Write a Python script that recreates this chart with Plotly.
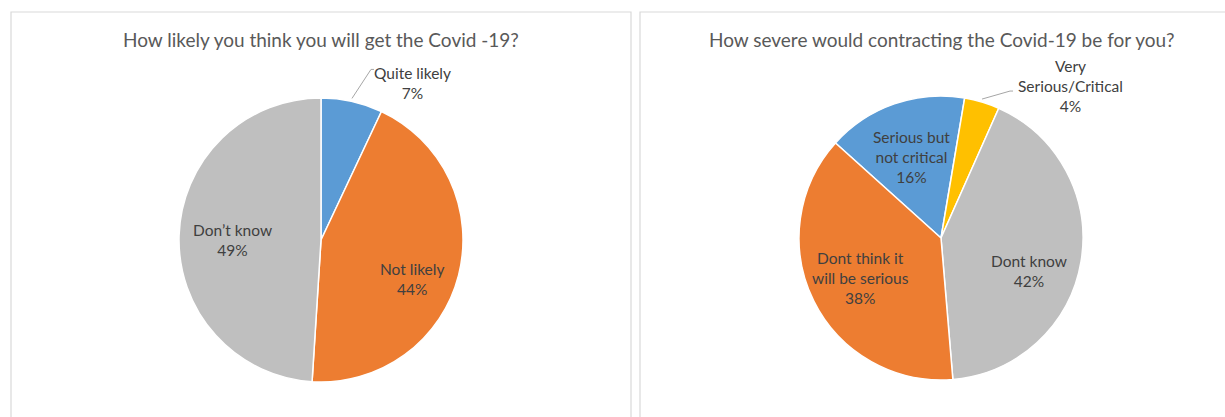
import math
import plotly.graph_objects as go

# ---------------- data ----------------
left_title = "How likely you think you will get the Covid -19?"
left_labels = ["Quite likely", "Not likely", "Don’t know"]
left_text = ["Quite likely<br>7%", "Not likely<br>44%", "Don’t know<br>49%"]
left_values = [7, 44, 49]

right_title = "How severe would contracting the Covid-19 be for you?"
right_labels = ["Serious but not critical", "Very Serious/Critical", "Dont know", "Dont think it will be serious"]
right_text = ["Serious but<br>not critical<br>16%", "Very<br>Serious/Critical<br>4%", "Dont know<br>42%",
              "Dont think it<br>will be serious<br>38%"]
right_values = [16, 4, 42, 38]

# ---------------- styling ----------------
W, H = 1225, 417
FONT = "Lato"
LABEL_SIZE = 15.5
TITLE_SIZE = 19
BLUE, ORANGE, GRAY, YELLOW = "#5B9BD5", "#ED7D31", "#BFBFBF", "#FFC000"
left_colors = [BLUE, ORANGE, GRAY]
right_colors = [BLUE, YELLOW, GRAY, ORANGE]

L = dict(cx=321, cy=240, R=142, rot=0)
Rt = dict(cx=941, cy=238, R=142, rot=-48)

# label placement: (radial fraction, angle shift) per slice; None -> outside label
left_place = [None, (0.70, 9), (0.62, -2)]
right_place = [(0.61, -1), None, (0.66, 11), (0.63, 0)]

fig = go.Figure()
shapes = []
annotations = []


def px2paper(x, y):
    return x / W, 1 - y / H


def add_pie(p, labels, values, colors, texts, place, title, outside_off):
    cx, cy, R = p["cx"], p["cy"], p["R"]
    x0, y1 = px2paper(cx - R, cy - R)
    x1, y0 = px2paper(cx + R, cy + R)
    fig.add_trace(go.Pie(
        labels=labels, values=values, sort=False, direction="clockwise",
        rotation=p["rot"], textinfo="none", hoverinfo="label+percent",
        marker=dict(colors=colors, line=dict(color="white", width=1.5)),
        domain=dict(x=[x0, x1], y=[y0, y1]), showlegend=False,
    ))
    tot = sum(values)
    cum = 0
    for v, t, pl in zip(values, texts, place):
        mid = p["rot"] + (cum + v / 2) / tot * 360
        cum += v
        if pl is not None:
            fr, sh = pl
            a = math.radians(mid + sh)
            x = cx + fr * R * math.sin(a)
            y = cy - fr * R * math.cos(a)
            ax, ay = px2paper(x, y)
            annotations.append(dict(x=ax, y=ay, xref="paper", yref="paper", text=t, showarrow=False,
                                    font=dict(family=FONT, size=LABEL_SIZE, color="#404040"),
                                    xanchor="center", yanchor="middle", align="center"))
        else:
            a = math.radians(mid)
            sx = cx + R * math.sin(a)
            sy = cy - R * math.cos(a) - 3
            ex, ey = sx + outside_off[0], sy + outside_off[1]
            fx, fy = ex + 3, ey
            for (xa, ya), (xb, yb) in [((sx, sy), (ex, ey)), ((ex, ey), (fx, fy))]:
                pa, pb = px2paper(xa, ya), px2paper(xb, yb)
                shapes.append(dict(type="line", xref="paper", yref="paper", x0=pa[0], y0=pa[1],
                                   x1=pb[0], y1=pb[1], line=dict(color="#A6A6A6", width=1)))
            tx, ty = px2paper(fx + outside_off[2], fy + outside_off[3])
            annotations.append(dict(x=tx, y=ty, xref="paper", yref="paper", text=t, showarrow=False,
                                    font=dict(family=FONT, size=LABEL_SIZE, color="#404040"),
                                    xanchor="center", yanchor="middle", align="center"))
    tx, ty = px2paper(cx, 40)
    annotations.append(dict(x=tx, y=ty, xref="paper", yref="paper", text=title, showarrow=False,
                            font=dict(family=FONT, size=TITLE_SIZE, color="#595959"),
                            xanchor="center", yanchor="middle"))


add_pie(L, left_labels, left_values, left_colors, left_text, left_place, left_title, (19, -29, 39, 14))
add_pie(Rt, right_labels, right_values, right_colors, right_text, right_place, right_title, (28, -8, 57, -5))

# panel borders
for (bx0, bx1) in [(11, 631), (640, 1240)]:
    p0 = px2paper(bx0, 12)
    p1 = px2paper(bx1, 430)
    shapes.append(dict(type="rect", xref="paper", yref="paper", x0=p0[0], y0=p1[1], x1=p1[0], y1=p0[1],
                       line=dict(color="#D9D9D9", width=1.2), fillcolor="rgba(0,0,0,0)", layer="below"))

fig.update_layout(width=W, height=H, margin=dict(l=0, r=0, t=0, b=0),
                  paper_bgcolor="white", plot_bgcolor="white",
                  shapes=shapes, annotations=annotations, font=dict(family=FONT))

fig.write_html("out.html")
